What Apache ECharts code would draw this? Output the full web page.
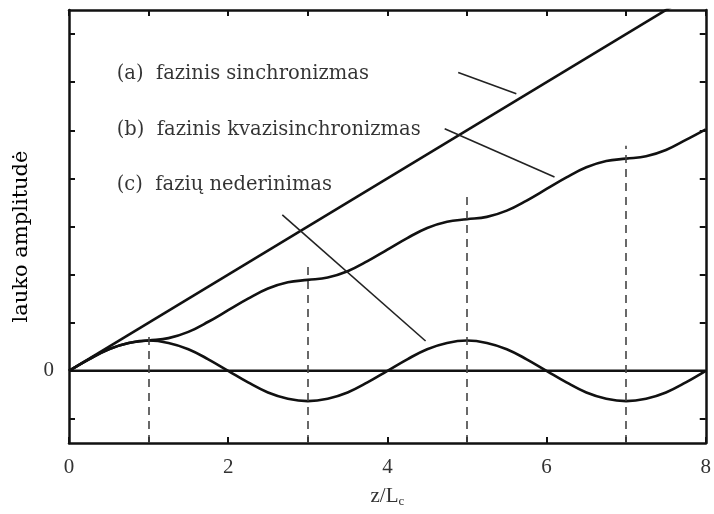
<!DOCTYPE html>
<html>
<head>
<meta charset="utf-8">
<script src="https://cdn.jsdelivr.net/npm/echarts@6/dist/echarts.min.js"></script>
<style>
  html, body { margin: 0; padding: 0; background: #fff; }
  #chart { width: 714px; height: 514px; }
</style>
</head>
<body>
<div id="chart"></div>
<script>
// z / L_c positions sampled along the crystal
var zValues = [0, 0.25, 0.5, 0.75, 1, 1.25, 1.5, 1.75, 2, 2.25, 2.5, 2.75, 3, 3.25, 3.5, 3.75, 4,
               4.25, 4.5, 4.75, 5, 5.25, 5.5, 5.75, 6, 6.25, 6.5, 6.75, 7, 7.25, 7.5, 7.75, 8];

// (a) phase matching: straight growth
var matchedZ = [0, 8];
var matchedAmp = [0, 8];

// (b) quasi phase matching: stepwise growth with plateaus at odd z/L_c
var quasiAmp = [0, 0.24, 0.45, 0.58, 0.63, 0.68, 0.81, 1.02, 1.26, 1.50, 1.71, 1.84, 1.89,
                1.94, 2.07, 2.28, 2.52, 2.76, 2.97, 3.10, 3.15, 3.20, 3.33, 3.54, 3.78,
                4.02, 4.23, 4.36, 4.41, 4.46, 4.59, 4.80, 5.02];

// (c) phase mismatch: oscillating amplitude
var mismatchAmp = [0, 0.24, 0.45, 0.58, 0.63, 0.58, 0.45, 0.24, 0, -0.24, -0.45, -0.58, -0.63,
                   -0.58, -0.45, -0.24, 0, 0.24, 0.45, 0.58, 0.63, 0.58, 0.45, 0.24, 0,
                   -0.24, -0.45, -0.58, -0.63, -0.58, -0.45, -0.24, 0];

// dashed guides at the coherence-length boundaries
var guideZ = [1, 3, 5, 7];
var guideTop = [0.81, 2.22, 3.70, 4.68];

// tick positions
var xTicks = [0, 1, 2, 3, 4, 5, 6, 7, 8];
var xTickLabels = [0, 2, 4, 6, 8];
var yTicks = [-1, 0, 1, 2, 3, 4, 5, 6, 7];
var yTickLabels = [0];

// captions and their leader lines (data coordinates)
var captions = ['(a)  fazinis sinchronizmas', '(b)  fazinis kvazisinchronizmas', '(c)  fazių nederinimas'];
var captionPos = [[0.6, 6.18], [0.6, 5.01], [0.6, 3.87]];
var leaders = [
  [[4.89, 6.20], [5.62, 5.76]],
  [[4.72, 5.03], [6.10, 4.03]],
  [[2.68, 3.24], [4.48, 0.62]]
];

var FONT = '"Liberation Serif", "DejaVu Serif", serif';
var TEXT_FONT = '"DejaVu Serif", "Liberation Serif", serif';
var INK = '#111';

function pairs(xs, ys) { return xs.map(function (x, i) { return [x, ys[i]]; }); }

var chart = echarts.init(document.getElementById('chart'), null, { renderer: 'canvas' });

var frameLine = { show: true, onZero: false, lineStyle: { color: INK, width: 2.5 } };

var option = {
  backgroundColor: '#fff',
  animation: false,
  grid: { left: 69, right: 6, top: 10, bottom: 71 },
  xAxis: [
    {
      type: 'value', min: 0, max: 8, position: 'bottom',
      axisLine: frameLine,
      axisTick: { show: true, inside: true, length: 6, customValues: xTicks, lineStyle: { color: INK, width: 2 } },
      axisLabel: { show: true, customValues: xTickLabels, margin: 14, fontFamily: FONT, fontSize: 21, color: '#333' },
      splitLine: { show: false },
      name: 'z/L{sub|c}', nameLocation: 'middle', nameGap: 42,
      nameTextStyle: {
        fontFamily: FONT, fontSize: 21, color: '#333',
        rich: { sub: { fontFamily: FONT, fontSize: 13, color: '#333', verticalAlign: 'bottom', padding: [10, 0, 0, 0] } }
      }
    },
    {
      type: 'value', min: 0, max: 8, position: 'top',
      axisLine: frameLine,
      axisTick: { show: true, inside: true, length: 6, customValues: xTicks, lineStyle: { color: INK, width: 2 } },
      axisLabel: { show: false },
      splitLine: { show: false }
    }
  ],
  yAxis: [
    {
      type: 'value', min: -1.5, max: 7.5, position: 'left',
      axisLine: frameLine,
      axisTick: { show: true, inside: true, length: 6, customValues: yTicks, lineStyle: { color: INK, width: 2 } },
      axisLabel: { show: true, customValues: yTickLabels, margin: 15, fontFamily: FONT, fontSize: 21, color: '#333' },
      splitLine: { show: false },
      name: 'lauko amplitudė', nameLocation: 'middle', nameGap: 37, nameRotate: 90,
      nameTextStyle: { fontFamily: TEXT_FONT, fontSize: 21, color: '#000', padding: [0, 20, 0, 0] }
    },
    {
      type: 'value', min: -1.5, max: 7.5, position: 'right',
      axisLine: frameLine,
      axisTick: { show: true, inside: true, length: 6, customValues: yTicks, lineStyle: { color: INK, width: 2 } },
      axisLabel: { show: false },
      splitLine: { show: false }
    }
  ],
  series: [
    {
      name: 'zero', type: 'line', data: [[0, 0], [8, 0]], symbol: 'none',
      lineStyle: { color: INK, width: 2.5 }, silent: true
    },
    {
      name: 'guides', type: 'line', data: [], symbol: 'none', silent: true,
      markLine: {
        symbol: 'none', silent: true, label: { show: false },
        lineStyle: { color: '#444', width: 1.6, type: [8, 6] },
        data: guideZ.map(function (z, i) { return [{ coord: [z, -1.5] }, { coord: [z, guideTop[i]] }]; })
      }
    },
    {
      name: 'leaders', type: 'line', data: [], symbol: 'none', silent: true,
      markLine: {
        symbol: 'none', silent: true, label: { show: false },
        lineStyle: { color: '#222', width: 1.6, type: 'solid' },
        data: leaders.map(function (l) { return [{ coord: l[0] }, { coord: l[1] }]; })
      }
    },
    {
      name: '(a)', type: 'line', data: pairs(matchedZ, matchedAmp), symbol: 'none', clip: true,
      lineStyle: { color: INK, width: 2.6 }
    },
    {
      name: '(b)', type: 'line', data: pairs(zValues, quasiAmp), symbol: 'none', smooth: 0.4,
      lineStyle: { color: INK, width: 2.6 }
    },
    {
      name: '(c)', type: 'line', data: pairs(zValues, mismatchAmp), symbol: 'none', smooth: 0.4,
      lineStyle: { color: INK, width: 2.6 }
    },
    {
      name: 'captions', type: 'scatter', symbolSize: 0, silent: true,
      data: captionPos.map(function (p, i) { return { value: p, name: captions[i] }; }),
      label: {
        show: true, position: 'right', distance: 0,
        formatter: function (p) { return p.name; },
        fontFamily: TEXT_FONT, fontSize: 19.5, color: '#000'
      }
    }
  ]
};

chart.setOption(option);
</script>
</body>
</html>
